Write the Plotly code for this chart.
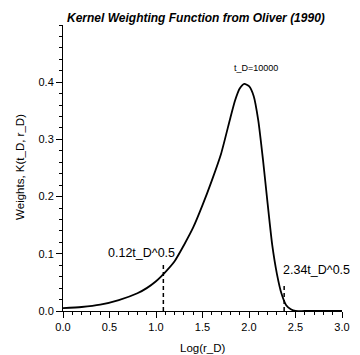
import plotly.graph_objects as go

# Kernel curve
log_rd = [0.0, 0.2, 0.4, 0.6, 0.8, 0.9, 1.0, 1.1, 1.2, 1.3, 1.4, 1.5, 1.6, 1.7, 1.8,
          1.85, 1.9, 1.95, 2.0, 2.05, 2.1, 2.15, 2.2, 2.25, 2.3, 2.35, 2.4, 2.45, 2.5, 2.6, 3.0]
weights = [0.005, 0.007, 0.011, 0.019, 0.031, 0.040, 0.052, 0.068, 0.087, 0.115, 0.146,
           0.185, 0.228, 0.275, 0.338, 0.368, 0.389, 0.397, 0.393, 0.376, 0.333, 0.265,
           0.188, 0.115, 0.065, 0.030, 0.010, 0.003, 0.0, 0.0, 0.0]

# Dashed markers at 0.12 sqrt(tD) and 2.34 sqrt(tD), tD = 10000
inner_x = [1.079, 1.079]
inner_y = [0.0, 0.082]
outer_x = [2.378, 2.378]
outer_y = [0.0, 0.045]

x_ticks = [0.0, 0.5, 1.0, 1.5, 2.0, 2.5, 3.0]
x_labels = ["0.0", "0.5", "1.0", "1.5", "2.0", "2.5", "3.0"]
y_ticks = [0.0, 0.1, 0.2, 0.3, 0.4]
y_labels = ["0.0", "0.1", "0.2", "0.3", "0.4"]

FONT = "Liberation Sans, Arial, sans-serif"

fig = go.Figure()
fig.add_trace(go.Scatter(x=log_rd, y=weights, mode="lines",
                         line=dict(color="black", width=1.8, shape="spline", smoothing=0.6),
                         hoverinfo="skip", showlegend=False))
fig.add_trace(go.Scatter(x=inner_x, y=inner_y, mode="lines",
                         line=dict(color="black", width=1.5, dash="4px,3px"),
                         showlegend=False))
fig.add_trace(go.Scatter(x=outer_x, y=outer_y, mode="lines",
                         line=dict(color="black", width=1.5, dash="4px,3px"),
                         showlegend=False))

L, R, T, B = 63, 10, 25, 44.3
W, H = 360, 355
pw, ph = W - L - R, H - T - B

def px_x(p):
    return (p - L) / pw

def px_y(p):
    return (H - B - p) / ph

fig.update_layout(
    width=W, height=H,
    margin=dict(l=L, r=R, t=T, b=B),
    paper_bgcolor="white", plot_bgcolor="white",
    font=dict(family=FONT, size=11, color="black"),
    showlegend=False,
    xaxis=dict(range=[0, 3], tickvals=x_ticks, ticktext=x_labels,
               showline=True, linecolor="black", linewidth=1, mirror=False,
               showgrid=False, zeroline=False,
               ticks="outside", ticklen=6, tickcolor="black", tickwidth=1,
               minor=dict(dtick=0.1, ticks="outside", ticklen=3, tickcolor="black", showgrid=False),
               tickfont=dict(size=11)),
    yaxis=dict(range=[0, 0.5], tickvals=y_ticks, ticktext=y_labels,
               showline=True, linecolor="black", linewidth=1, mirror=False,
               showgrid=False, zeroline=False,
               ticks="outside", ticklen=6, tickcolor="black", tickwidth=1,
               minor=dict(dtick=0.02, ticks="outside", ticklen=3, tickcolor="black", showgrid=False),
               tickfont=dict(size=11)),
    annotations=[
        dict(text="<b><i>Kernel Weighting Function from Oliver (1990)</i></b>",
             xref="paper", yref="paper", x=px_x(200), y=px_y(18),
             xanchor="center", yanchor="middle", showarrow=False, font=dict(size=12)),
        dict(text="Weights, K(t_D, r_D)", textangle=-90,
             xref="paper", yref="paper", x=px_x(18), y=px_y(166.5),
             xanchor="center", yanchor="middle", showarrow=False, font=dict(size=11.5)),
        dict(text="Log(r_D)",
             xref="paper", yref="paper", x=px_x(206.5), y=px_y(348),
             xanchor="center", yanchor="middle", showarrow=False, font=dict(size=11.5)),
        dict(text="t_D=10000", xref="x", yref="y", x=2.08, y=0.424,
             xanchor="center", yanchor="middle", showarrow=False, font=dict(size=9)),
        dict(text="0.12t_D^0.5", xref="x", yref="y", x=0.841, y=0.1007,
             xanchor="center", yanchor="middle", showarrow=False, font=dict(size=12.5)),
        dict(text="2.34t_D^0.5", xref="x", yref="y", x=2.73, y=0.0714,
             xanchor="center", yanchor="middle", showarrow=False, font=dict(size=12.5)),
    ],
)

fig.write_html("out.html")
